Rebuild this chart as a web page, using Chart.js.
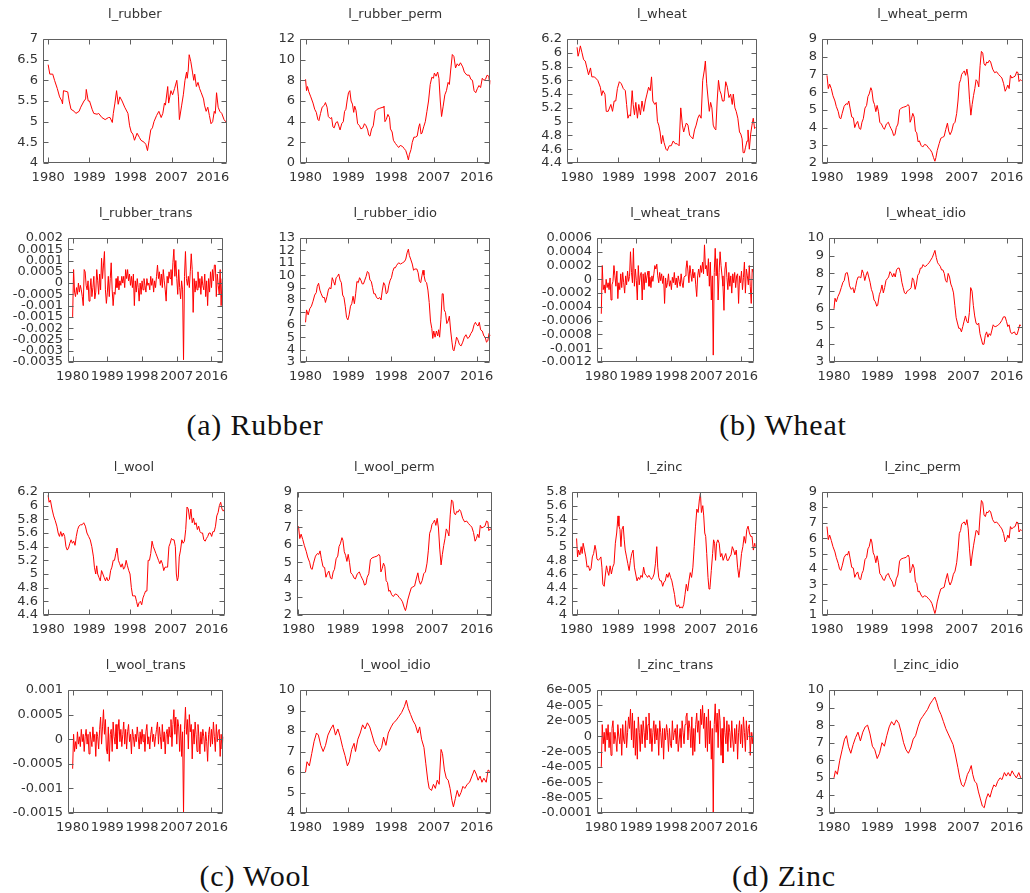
<!DOCTYPE html>
<html>
<head>
<meta charset="utf-8">
<script src="https://cdn.jsdelivr.net/npm/chart.js@4.4.0/dist/chart.umd.min.js"></script>
<style>
  html, body { margin: 0; padding: 0; background: #fff; overflow: hidden; }
  #fig { position: relative; width: 1030px; height: 893px; }
  #fig canvas { position: absolute; }
  .cap { position: absolute; width: 400px; text-align: center; font-family: 'Liberation Serif', serif;
         font-size: 30px; line-height: 30px; letter-spacing: 0.8px; color: #111; }
</style>
</head>
<body>
<div id="fig">
  <div class="cap" style="left:55px; top:410px">(a) Rubber</div>
  <div class="cap" style="left:583px; top:410px">(b) Wheat</div>
  <div class="cap" style="left:55px; top:861px">(c) Wool</div>
  <div class="cap" style="left:584px; top:861px">(d) Zinc</div>
</div>
<script>
// ---- data: [year, value] readings, monthly series thinned by hand ----
const yearTicks = [1980, 1989, 1998, 2007, 2016];

const rubber = [
  [1980.00,6.38],[1980.36,6.15],[1981.00,6.15],[1981.40,6.00],[1982.00,5.80],[1982.50,5.60],[1983.00,5.50],[1983.14,5.43],
  [1983.35,5.75],[1984.28,5.72],[1984.60,5.50],[1985.00,5.30],[1985.70,5.25],[1986.06,5.20],[1986.77,5.25],[1987.13,5.35],
  [1987.84,5.50],[1988.20,5.55],[1988.34,5.78],[1988.77,5.50],[1989.05,5.50],[1989.62,5.30],[1989.98,5.20],[1990.70,5.18],
  [1991.05,5.20],[1991.76,5.10],[1992.47,5.05],[1993.19,5.10],[1993.54,5.10],[1994.04,4.98],[1994.26,5.20],[1994.61,5.45],
  [1994.97,5.75],[1995.33,5.42],[1995.68,5.60],[1996.18,5.50],[1996.75,5.35],[1997.46,5.20],[1997.82,4.90],[1998.18,4.75],
  [1998.53,4.70],[1998.89,4.55],[1999.46,4.72],[1999.96,4.62],[2000.31,4.55],[2001.03,4.50],[2001.38,4.45],[2001.74,4.30],
  [2002.10,4.55],[2002.45,4.80],[2002.81,4.85],[2003.16,5.00],[2003.73,5.15],[2004.23,5.25],[2004.73,5.10],[2005.09,5.20],
  [2005.45,5.45],[2005.66,5.40],[2006.16,5.85],[2006.37,5.45],[2006.87,5.75],[2007.23,5.65],[2007.66,5.80],[2008.15,6.00],
  [2008.51,5.60],[2008.72,5.05],[2009.22,5.40],[2009.58,5.65],[2009.94,6.00],[2010.29,6.20],[2010.43,6.05],[2010.65,6.25],
  [2010.86,6.62],[2011.22,6.45],[2011.58,6.20],[2011.86,6.00],[2012.07,6.15],[2012.43,5.85],[2012.79,5.95],[2013.14,5.80],
  [2013.50,5.70],[2014.00,5.55],[2014.21,5.40],[2014.57,5.25],[2014.93,5.35],[2015.28,5.15],[2015.64,4.95],[2016.00,5.00],
  [2016.35,5.25],[2016.57,5.20],[2016.85,5.70],[2017.20,5.35],[2017.56,5.25],[2017.99,5.20],[2018.49,5.05],[2018.85,5.00],
  [2019.00,4.98]
];

const rubberPerm = [
  [1980.00,8.1],[1980.21,7.0],[1980.41,7.4],[1980.68,6.9],[1981.10,6.4],[1981.57,5.8],[1981.92,5.2],[1982.26,4.9],
  [1982.60,4.2],[1982.81,4.1],[1983.15,4.8],[1983.49,5.4],[1983.97,5.6],[1984.18,5.85],[1984.52,5.4],[1984.79,4.5],
  [1985.20,4.3],[1985.48,4.4],[1985.75,3.5],[1986.02,3.4],[1986.37,3.9],[1986.71,4.0],[1987.05,3.5],[1987.26,3.2],
  [1987.60,3.8],[1987.94,4.0],[1988.21,5.0],[1988.49,5.2],[1988.76,6.1],[1989.03,6.8],[1989.31,7.0],[1989.58,6.0],
  [1989.86,5.7],[1990.13,4.9],[1990.34,5.5],[1990.61,5.1],[1990.95,3.8],[1991.36,3.6],[1991.64,3.3],[1992.05,3.4],
  [1992.39,3.8],[1992.73,3.6],[1993.07,3.2],[1993.28,2.7],[1993.55,2.6],[1993.89,3.3],[1994.24,3.6],[1994.65,5.0],
  [1995.06,5.2],[1995.61,5.3],[1996.29,5.4],[1996.50,5.5],[1996.70,4.0],[1996.97,4.2],[1997.32,4.7],[1997.66,4.4],
  [1997.86,3.3],[1998.21,3.0],[1998.48,2.2],[1998.89,1.9],[1999.23,1.7],[1999.58,1.5],[1999.92,1.7],[2000.40,1.6],
  [2000.74,1.4],[2001.08,1.2],[2001.42,0.7],[2001.63,0.3],[2001.83,0.8],[2002.18,1.3],[2002.45,2.0],[2002.79,2.5],
  [2003.13,2.5],[2003.48,2.6],[2003.82,3.5],[2004.02,3.8],[2004.30,2.8],[2004.50,2.9],[2004.85,3.5],[2005.19,4.0],
  [2005.53,5.0],[2005.87,6.0],[2006.22,7.6],[2006.56,8.3],[2006.90,8.2],[2007.10,8.7],[2007.45,8.4],[2007.79,8.8],
  [2008.06,8.2],[2008.34,6.0],[2008.61,4.5],[2008.95,5.5],[2009.30,6.6],[2009.64,7.0],[2009.98,7.8],[2010.25,7.6],
  [2010.53,9.0],[2010.87,10.5],[2011.21,10.3],[2011.55,9.2],[2011.90,9.6],[2012.24,9.4],[2012.58,9.7],[2013.06,9.3],
  [2013.40,8.8],[2013.95,8.5],[2014.43,8.5],[2014.77,8.1],[2015.11,8.0],[2015.45,7.0],[2015.80,6.8],[2016.14,7.2],
  [2016.48,7.5],[2016.82,7.3],[2017.17,8.2],[2017.51,8.0],[2017.85,8.1],[2018.19,8.5],[2018.54,8.4],[2018.74,7.6],
  [2018.88,8.0]
];

const wheat = [
  [1980.00,6.08],[1980.22,5.95],[1980.43,6.00],[1980.72,6.10],[1981.08,6.00],[1981.43,5.90],[1981.79,5.88],[1982.15,5.78],
  [1982.51,5.68],[1982.94,5.78],[1983.23,5.65],[1983.80,5.65],[1984.52,5.60],[1985.09,5.50],[1985.38,5.38],[1985.67,5.45],
  [1986.10,5.40],[1986.38,5.15],[1986.81,5.15],[1987.39,5.25],[1987.75,5.15],[1988.11,5.30],[1988.46,5.30],[1988.82,5.48],
  [1989.25,5.58],[1989.68,5.55],[1990.11,5.48],[1990.55,5.45],[1990.83,5.25],[1991.12,5.05],[1991.41,5.10],[1991.69,5.08],
  [1992.05,5.45],[1992.27,5.25],[1992.55,5.10],[1992.84,5.28],[1993.20,5.05],[1993.49,5.25],[1993.85,5.10],[1994.20,5.30],
  [1994.56,5.15],[1994.92,5.30],[1995.28,5.40],[1995.64,5.50],[1996.00,5.45],[1996.28,5.65],[1996.57,5.30],[1997.00,5.25],
  [1997.29,5.28],[1997.58,5.00],[1997.86,4.95],[1998.15,4.85],[1998.44,4.68],[1998.72,4.80],[1999.01,4.70],[1999.44,4.60],
  [1999.73,4.58],[2000.16,4.65],[2000.59,4.65],[2001.02,4.72],[2001.45,4.68],[2001.88,4.68],[2002.31,4.65],[2002.67,5.20],
  [2003.03,4.95],[2003.31,4.85],[2003.60,4.92],[2003.89,4.98],[2004.25,4.95],[2004.61,4.80],[2004.96,4.78],[2005.32,4.75],
  [2005.68,4.88],[2006.04,4.95],[2006.40,5.05],[2006.76,5.10],[2007.12,5.05],[2007.47,5.60],[2007.83,5.75],[2008.05,5.88],
  [2008.34,5.55],[2008.69,5.30],[2008.91,5.15],[2009.20,5.28],[2009.48,5.20],[2009.77,4.95],[2010.06,4.90],[2010.34,4.88],
  [2010.63,5.30],[2010.92,5.60],[2011.21,5.45],[2011.49,5.40],[2011.78,5.30],[2012.14,5.30],[2012.50,5.58],[2012.86,5.50],
  [2013.21,5.35],[2013.57,5.40],[2013.93,5.25],[2014.15,5.40],[2014.51,5.20],[2014.79,5.15],[2015.15,5.05],[2015.51,4.85],
  [2015.80,4.82],[2016.08,4.75],[2016.30,4.55],[2016.59,4.55],[2016.80,4.62],[2017.16,4.72],[2017.37,4.88],[2017.66,4.60],
  [2017.95,4.82],[2018.24,4.95],[2018.52,5.05],[2018.81,4.90],[2019.00,4.92]
];

// the three "perm" components below share one set of reading dates
const permYears = [
  1980.00,1980.26,1980.53,1980.86,1981.19,1981.59,1981.85,1982.25,1982.51,1982.77,1983.04,1983.43,1983.83,1984.10,1984.36,1984.62,
  1984.95,1985.28,1985.55,1985.81,1986.14,1986.47,1986.74,1987.00,1987.27,1987.60,1987.93,1988.19,1988.45,1988.78,1988.98,1989.25,
  1989.51,1989.78,1990.04,1990.30,1990.57,1990.90,1991.23,1991.49,1991.89,1992.29,1992.55,1992.81,1993.08,1993.34,1993.61,1993.87,
  1994.20,1994.53,1994.86,1995.32,1995.85,1996.25,1996.45,1996.64,1996.91,1997.17,1997.44,1997.70,1997.97,1998.23,1998.49,1998.82,
  1999.15,1999.55,1999.95,2000.34,2000.67,2001.00,2001.33,2001.60,2001.80,2002.06,2002.46,2002.79,2003.12,2003.45,2003.78,2004.11,
  2004.37,2004.64,2004.97,2005.30,2005.63,2005.96,2006.22,2006.49,2006.75,2006.95,2007.21,2007.48,2007.74,2008.01,2008.27,2008.53,
  2008.80,2009.06,2009.33,2009.59,2009.85,2010.12,2010.38,2010.65,2010.91,2011.18,2011.44,2011.70,2011.97,2012.23,2012.50,2012.76,
  2013.16,2013.55,2013.95,2014.35,2014.68,2015.01,2015.34,2015.67,2015.93,2016.20,2016.46,2016.72,2016.99,2017.32,2017.65,2017.98,
  2018.24,2018.44,2018.71,2018.97
];
const wheatPerm = [
  6.95,6.2,6.45,6.2,5.8,5.5,5.2,4.9,4.55,4.5,4.8,5.2,5.35,5.3,5.5,5.1,
  4.6,4.55,4.0,4.2,4.35,3.95,3.9,4.3,4.5,5.1,5.25,5.75,5.9,6.25,6.1,5.5,
  5.3,4.9,5.25,4.9,4.3,4.2,4.0,3.9,4.2,4.3,4.1,3.95,3.8,3.55,3.6,4.0,
  4.2,5.0,5.1,5.15,5.2,5.3,5.2,4.3,4.5,4.8,4.6,3.8,3.7,3.2,3.25,3.0,
  2.9,3.05,3.0,2.85,2.75,2.6,2.3,2.1,2.3,2.7,3.1,3.4,3.45,3.5,3.9,4.25,
  3.8,3.6,3.8,4.2,4.3,4.8,5.5,6.5,6.7,7.0,7.1,7.2,6.95,7.3,6.8,5.6,
  4.7,5.3,5.8,6.2,6.7,6.6,6.3,7.5,8.3,8.2,7.6,7.5,7.7,7.65,7.8,7.7,
  7.3,7.1,7.15,7.0,6.9,6.8,6.5,6.05,6.2,6.4,6.2,6.95,6.8,6.85,6.9,7.15,
  7.1,6.6,6.7,6.65
];
const woolPerm = [
  7.05,6.35,6.6,6.3,5.95,5.6,5.3,5.0,4.65,4.6,4.95,5.35,5.5,5.45,5.65,5.2,
  4.75,4.7,4.15,4.35,4.5,4.1,4.05,4.45,4.6,5.2,5.35,5.9,6.05,6.4,6.25,5.6,
  5.4,5.05,5.45,5.0,4.4,4.3,4.1,4.05,4.35,4.45,4.25,4.1,3.95,3.7,3.75,4.15,
  4.35,5.15,5.25,5.3,5.35,5.45,5.35,4.45,4.65,4.95,4.75,3.95,3.85,3.35,3.4,3.15,
  3.05,3.2,3.15,3.0,2.9,2.75,2.45,2.25,2.45,2.85,3.25,3.55,3.6,3.65,4.05,4.4,
  3.95,3.75,3.95,4.35,4.45,4.95,5.65,6.65,6.85,7.15,7.25,7.4,7.1,7.5,6.95,5.75,
  4.85,5.45,5.95,6.35,6.9,6.75,6.5,7.7,8.55,8.45,7.8,7.7,7.9,7.85,8.0,7.9,
  7.5,7.3,7.35,7.2,7.1,7.0,6.7,6.2,6.35,6.6,6.4,7.1,6.95,7.0,7.05,7.35,
  7.3,6.8,6.9,6.85
];
const zincPerm = [
  6.75,5.9,6.2,5.85,5.45,5.1,4.75,4.35,4.0,3.9,4.2,4.75,4.95,4.9,5.15,4.7,
  4.1,4.05,3.45,3.65,3.8,3.35,3.3,3.7,3.9,4.6,4.75,5.3,5.45,5.95,5.75,5.05,
  4.85,4.4,4.85,4.4,3.7,3.55,3.3,3.25,3.6,3.7,3.45,3.3,3.15,2.85,2.9,3.35,
  3.6,4.5,4.65,4.7,4.75,4.9,4.75,3.75,3.95,4.3,4.05,3.15,3.05,2.5,2.55,2.3,
  2.15,2.25,2.2,2.05,1.95,1.75,1.4,1.1,1.35,1.85,2.35,2.7,2.75,2.8,3.3,3.7,
  3.2,2.95,3.2,3.65,3.85,4.4,5.2,6.3,6.5,6.9,7.0,7.05,6.85,7.2,6.6,5.3,
  4.2,4.9,5.5,6.0,6.5,6.45,6.2,7.5,8.45,8.3,7.5,7.4,7.7,7.65,7.8,7.7,
  7.2,7.0,7.05,6.9,6.75,6.6,6.3,5.75,5.9,6.2,6.0,6.75,6.6,6.7,6.75,7.05,
  7.0,6.4,6.55,6.5
];

const rubberIdio = [
  [1980.00,6.2],[1980.21,7.2],[1980.55,6.8],[1980.89,7.3],[1981.23,7.5],[1981.57,7.9],[1981.92,8.4],[1982.26,8.6],
  [1982.46,9.1],[1982.74,9.35],[1983.01,8.8],[1983.29,8.5],[1983.63,8.2],[1983.97,8.2],[1984.18,7.8],[1984.52,8.3],
  [1984.79,8.8],[1985.06,9.0],[1985.34,8.9],[1985.61,9.8],[1985.89,9.5],[1986.16,9.2],[1986.43,9.8],[1986.71,9.9],
  [1986.98,10.1],[1987.26,9.6],[1987.53,9.4],[1987.80,8.4],[1988.08,8.2],[1988.35,7.5],[1988.62,6.6],[1988.90,6.4],
  [1989.17,6.8],[1989.45,7.5],[1989.72,7.7],[1989.99,8.3],[1990.27,7.7],[1990.54,8.5],[1990.81,9.5],[1991.09,9.4],
  [1991.36,9.8],[1991.64,9.6],[1991.91,9.3],[1992.18,9.3],[1992.46,9.6],[1992.73,9.9],[1993.00,10.3],[1993.28,10.2],
  [1993.55,9.6],[1993.83,9.5],[1994.10,9.0],[1994.37,8.5],[1994.65,8.5],[1994.92,8.2],[1995.26,8.1],[1995.61,8.2],
  [1995.88,8.0],[1996.15,8.8],[1996.43,9.4],[1996.70,9.2],[1996.97,8.5],[1997.25,8.6],[1997.52,9.2],[1997.80,9.6],
  [1998.07,9.8],[1998.34,10.3],[1998.62,10.6],[1998.89,10.6],[1999.16,10.8],[1999.58,11.0],[1999.99,10.9],[2000.40,11.0],
  [2000.81,11.1],[2001.08,11.3],[2001.36,11.8],[2001.63,12.1],[2001.83,11.6],[2002.11,11.3],[2002.45,10.9],[2002.72,10.4],
  [2003.00,10.5],[2003.41,10.5],[2003.68,10.2],[2003.96,9.5],[2004.23,9.4],[2004.50,10.0],[2004.71,10.4],[2004.91,10.0],
  [2005.19,9.5],[2005.46,9.4],[2005.74,8.8],[2006.01,7.8],[2006.28,6.3],[2006.56,5.7],[2006.76,4.9],[2006.97,5.5],
  [2007.24,5.0],[2007.52,5.5],[2007.79,5.1],[2007.99,5.6],[2008.20,5.0],[2008.47,6.4],[2008.75,8.5],[2008.95,8.5],
  [2009.16,7.2],[2009.43,7.0],[2009.71,6.1],[2009.98,6.3],[2010.25,6.7],[2010.53,5.5],[2010.80,4.6],[2011.01,4.0],
  [2011.21,3.9],[2011.49,4.4],[2011.76,5.0],[2012.03,4.8],[2012.38,4.4],[2012.72,4.3],[2013.06,4.6],[2013.40,5.0],
  [2013.74,5.2],[2014.09,4.9],[2014.43,5.0],[2014.77,5.3],[2015.11,5.5],[2015.45,6.0],[2015.73,6.2],[2016.00,6.0],
  [2016.28,5.9],[2016.55,6.2],[2016.82,5.6],[2017.17,5.5],[2017.51,5.1],[2017.78,5.0],[2018.06,4.6],[2018.33,4.7],
  [2018.60,5.3],[2018.88,5.1]
];

const wheatIdio = [
  [1980.00,6.0],[1980.21,6.6],[1980.48,6.4],[1980.83,6.7],[1981.17,6.9],[1981.52,7.2],[1981.86,7.5],[1982.14,7.6],
  [1982.41,8.0],[1982.76,8.05],[1982.97,7.8],[1983.24,7.3],[1983.59,7.1],[1983.93,7.2],[1984.21,6.9],[1984.48,7.2],
  [1984.76,7.6],[1985.03,7.8],[1985.31,7.8],[1985.59,7.75],[1985.86,8.2],[1986.14,8.0],[1986.41,7.6],[1986.69,7.9],
  [1986.97,8.1],[1987.24,7.8],[1987.52,7.5],[1987.79,7.1],[1988.07,6.9],[1988.34,6.5],[1988.62,6.4],[1988.90,6.15],
  [1989.10,6.2],[1989.45,6.8],[1989.72,7.0],[1990.00,7.35],[1990.28,6.9],[1990.55,7.2],[1990.83,7.6],[1991.10,7.7],
  [1991.38,7.8],[1991.66,8.1],[1991.93,8.0],[1992.21,7.8],[1992.48,8.0],[1992.76,7.8],[1993.03,8.2],[1993.31,8.3],
  [1993.59,8.3],[1993.86,8.0],[1994.14,7.5],[1994.41,7.2],[1994.69,6.9],[1994.97,6.85],[1995.24,7.0],[1995.52,7.05],
  [1995.79,7.1],[1996.07,7.2],[1996.34,7.75],[1996.62,7.6],[1996.90,7.1],[1997.17,7.4],[1997.45,7.9],[1997.72,8.0],
  [1998.00,8.3],[1998.28,8.3],[1998.55,8.5],[1998.83,8.4],[1999.10,8.4],[1999.45,8.5],[1999.79,8.6],[2000.14,8.75],
  [2000.48,8.9],[2000.76,9.1],[2001.03,9.3],[2001.31,8.9],[2001.59,8.6],[2001.86,8.5],[2002.14,8.4],[2002.41,8.2],
  [2002.69,8.2],[2002.97,8.0],[2003.24,7.6],[2003.52,7.5],[2003.79,8.0],[2004.07,7.8],[2004.34,7.4],[2004.62,7.2],
  [2004.90,6.9],[2005.17,6.2],[2005.45,5.5],[2005.72,5.2],[2006.00,4.9],[2006.28,4.9],[2006.55,4.7],[2006.83,5.0],
  [2007.10,5.3],[2007.38,5.6],[2007.66,5.3],[2007.93,5.2],[2008.21,5.8],[2008.48,7.2],[2008.76,7.0],[2009.03,6.2],
  [2009.31,5.6],[2009.59,5.2],[2009.86,5.1],[2010.14,5.2],[2010.41,4.6],[2010.69,4.3],[2010.97,4.0],[2011.24,4.0],
  [2011.52,4.5],[2011.79,4.7],[2012.07,4.4],[2012.34,4.6],[2012.62,4.5],[2012.90,4.8],[2013.17,5.1],[2013.45,5.0],
  [2013.72,5.0],[2014.00,5.05],[2014.28,5.1],[2014.62,5.2],[2014.97,5.35],[2015.31,5.55],[2015.66,5.55],[2015.93,5.3],
  [2016.21,5.0],[2016.48,5.1],[2016.76,4.7],[2017.03,4.6],[2017.31,4.65],[2017.59,4.7],[2017.86,4.55],[2018.14,4.55],
  [2018.41,4.8],[2018.69,5.1],[2018.97,5.05]
];

const wool = [
  [1980.00,6.15],[1980.21,6.05],[1980.50,6.08],[1980.86,5.95],[1981.21,5.85],[1981.57,5.78],[1981.92,5.70],[1982.21,5.60],
  [1982.49,5.55],[1982.78,5.62],[1983.06,5.55],[1983.35,5.60],[1983.64,5.55],[1983.92,5.40],[1984.21,5.35],[1984.49,5.38],
  [1984.78,5.45],[1985.06,5.50],[1985.35,5.45],[1985.63,5.48],[1985.92,5.42],[1986.20,5.55],[1986.49,5.65],[1986.77,5.70],
  [1987.13,5.72],[1987.48,5.72],[1987.84,5.75],[1988.20,5.70],[1988.55,5.60],[1988.91,5.55],[1989.27,5.50],[1989.62,5.40],
  [1989.98,5.25],[1990.19,5.10],[1990.48,5.00],[1990.69,5.12],[1990.91,5.00],[1991.19,4.95],[1991.48,4.90],[1991.76,5.05],
  [1992.05,5.00],[1992.33,4.95],[1992.62,4.90],[1992.90,4.95],[1993.19,4.90],[1993.47,4.92],[1993.76,5.05],[1994.04,5.10],
  [1994.33,5.20],[1994.61,5.20],[1994.90,5.30],[1995.18,5.38],[1995.47,5.20],[1995.75,5.15],[1996.04,5.10],[1996.32,5.15],
  [1996.61,5.07],[1996.89,5.10],[1997.18,5.20],[1997.46,5.12],[1997.75,5.05],[1998.03,5.00],[1998.32,4.80],[1998.60,4.68],
  [1998.89,4.68],[1999.17,4.68],[1999.46,4.60],[1999.74,4.52],[2000.03,4.58],[2000.31,4.60],[2000.60,4.55],[2000.88,4.65],
  [2001.17,4.70],[2001.45,4.75],[2001.74,4.75],[2002.02,5.20],[2002.31,5.20],[2002.59,5.30],[2002.88,5.48],[2003.16,5.40],
  [2003.45,5.35],[2003.73,5.30],[2004.02,5.25],[2004.30,5.20],[2004.59,5.15],[2004.87,5.20],[2005.16,5.15],[2005.45,5.05],
  [2005.73,5.10],[2006.02,5.10],[2006.30,5.10],[2006.59,5.40],[2006.87,5.45],[2007.16,5.52],[2007.44,5.50],[2007.73,5.50],
  [2008.01,5.40],[2008.23,5.00],[2008.44,4.90],[2008.65,4.95],[2008.87,5.25],[2009.15,5.35],[2009.44,5.50],[2009.72,5.45],
  [2010.01,5.48],[2010.29,5.65],[2010.58,5.98],[2010.86,5.95],[2011.15,5.80],[2011.43,5.95],[2011.72,5.75],[2012.00,5.82],
  [2012.29,5.72],[2012.57,5.75],[2012.86,5.65],[2013.14,5.70],[2013.43,5.62],[2013.71,5.60],[2014.00,5.60],[2014.28,5.50],
  [2014.57,5.48],[2014.85,5.52],[2015.14,5.55],[2015.42,5.60],[2015.71,5.60],[2016.00,5.55],[2016.28,5.62],[2016.56,5.62],
  [2016.85,5.70],[2017.13,5.85],[2017.42,5.90],[2017.70,6.00],[2017.99,6.05],[2018.28,5.95],[2018.56,5.92],[2018.85,5.95]
];

const zinc = [
  [1980.00,5.12],[1980.21,4.85],[1980.43,4.95],[1980.72,4.88],[1981.00,5.00],[1981.22,4.90],[1981.43,5.05],[1981.72,4.95],
  [1982.01,4.85],[1982.29,4.70],[1982.58,4.72],[1982.87,4.65],[1983.15,4.68],[1983.44,4.85],[1983.72,4.90],[1984.01,5.02],
  [1984.23,4.95],[1984.44,4.82],[1984.73,4.80],[1985.01,4.82],[1985.30,4.85],[1985.52,4.70],[1985.73,4.45],[1986.02,4.42],
  [1986.30,4.60],[1986.52,4.72],[1986.73,4.65],[1987.02,4.58],[1987.31,4.72],[1987.59,4.60],[1987.88,4.70],[1988.17,4.75],
  [1988.45,5.05],[1988.74,5.20],[1989.03,5.45],[1989.24,5.30],[1989.46,5.25],[1989.67,5.00],[1989.89,5.25],[1990.17,5.30],
  [1990.39,5.10],[1990.60,4.95],[1990.89,4.85],[1991.17,4.75],[1991.46,4.65],[1991.75,4.80],[1992.03,4.90],[1992.32,4.95],
  [1992.61,4.70],[1992.89,4.60],[1993.18,4.50],[1993.47,4.55],[1993.75,4.52],[1994.04,4.58],[1994.33,4.55],[1994.61,4.70],
  [1994.90,4.60],[1995.19,4.58],[1995.47,4.55],[1995.76,4.58],[1996.05,4.55],[1996.33,4.52],[1996.62,4.55],[1996.90,4.60],
  [1997.19,4.75],[1997.48,5.00],[1997.69,4.70],[1997.91,4.55],[1998.19,4.50],[1998.48,4.50],[1998.77,4.42],[1999.05,4.48],
  [1999.34,4.50],[1999.63,4.60],[1999.91,4.55],[2000.20,4.62],[2000.49,4.55],[2000.77,4.50],[2001.06,4.40],[2001.35,4.30],
  [2001.63,4.15],[2001.92,4.12],[2002.21,4.15],[2002.49,4.10],[2002.78,4.12],[2003.07,4.10],[2003.35,4.15],[2003.64,4.30],
  [2003.92,4.45],[2004.21,4.35],[2004.50,4.50],[2004.78,4.62],[2005.07,4.55],[2005.36,4.70],[2005.64,5.00],[2005.93,5.30],
  [2006.22,5.55],[2006.50,5.50],[2006.79,5.70],[2007.00,5.78],[2007.22,5.50],[2007.51,5.60],[2007.72,5.45],[2007.94,5.20],
  [2008.15,5.15],[2008.37,4.90],[2008.65,4.55],[2008.87,4.38],[2009.08,4.40],[2009.37,4.65],[2009.66,4.90],[2009.87,5.10],
  [2010.09,5.05],[2010.30,4.80],[2010.52,5.05],[2010.80,5.10],[2011.09,5.05],[2011.38,4.85],[2011.66,4.90],[2011.95,4.80],
  [2012.23,4.85],[2012.52,4.90],[2012.81,4.80],[2013.09,4.80],[2013.38,4.85],[2013.67,4.88],[2013.95,5.00],[2014.24,4.95],
  [2014.53,4.88],[2014.81,4.95],[2015.10,4.70],[2015.39,4.55],[2015.67,4.70],[2015.96,4.90],[2016.25,5.00],[2016.53,5.15],
  [2016.82,5.05],[2017.11,5.25],[2017.39,5.30],[2017.68,5.20],[2017.97,5.15],[2018.25,5.15],[2018.54,4.95],[2018.83,5.05],
  [2018.97,5.00]
];

const woolIdio = [
  [1980.0,6.0],[1980.3,6.5],[1980.8,6.3],[1981.3,6.9],[1981.8,7.5],[1982.3,7.9],[1982.7,7.8],[1983.2,7.3],
  [1983.7,7.0],[1984.2,7.3],[1984.7,7.8],[1985.3,8.1],[1985.8,8.3],[1986.3,7.8],[1986.8,8.1],[1987.3,7.7],
  [1987.8,7.2],[1988.3,6.8],[1988.8,6.3],[1989.2,6.5],[1989.7,7.1],[1990.2,7.4],[1990.5,7.0],[1991.0,7.6],
  [1991.5,7.9],[1992.0,8.3],[1992.5,8.1],[1993.0,8.4],[1993.5,8.2],[1994.0,7.8],[1994.5,7.4],[1995.0,7.2],
  [1995.5,7.0],[1996.0,7.2],[1996.4,7.7],[1996.9,7.3],[1997.4,7.9],[1998.0,8.2],[1998.5,8.4],[1999.0,8.5],
  [1999.6,8.7],[2000.2,8.9],[2000.8,9.2],[2001.2,9.5],[2001.6,9.1],[2002.1,8.8],[2002.6,8.5],[2003.1,8.3],
  [2003.6,7.9],[2004.0,8.2],[2004.4,7.6],[2004.9,7.2],[2005.3,6.4],[2005.7,5.6],[2006.0,5.2],[2006.5,5.1],
  [2006.9,5.4],[2007.3,5.2],[2007.7,5.6],[2008.1,5.4],[2008.5,7.1],[2008.8,6.9],[2009.2,6.1],[2009.6,5.7],
  [2010.0,5.6],[2010.4,5.2],[2010.8,4.6],[2011.1,4.3],[2011.5,4.7],[2011.9,5.1],[2012.3,4.8],[2012.7,5.0],
  [2013.1,5.3],[2013.5,5.2],[2014.0,5.4],[2014.5,5.5],[2015.0,5.8],[2015.5,6.1],[2015.9,5.9],[2016.3,5.6],
  [2016.7,5.8],[2017.1,5.5],[2017.5,5.7],[2018.0,5.5],[2018.4,6.1],[2018.9,6.0]
];

const zincIdio = [
  [1980.0,5.0],[1980.3,5.4],[1980.7,5.2],[1981.2,6.0],[1981.7,6.6],[1982.2,7.2],[1982.6,7.4],[1983.0,6.8],
  [1983.5,6.4],[1984.0,6.9],[1984.5,7.3],[1985.0,7.6],[1985.5,7.1],[1986.0,7.6],[1986.5,7.9],[1987.0,8.0],
  [1987.5,7.5],[1988.0,6.8],[1988.5,6.6],[1989.0,6.1],[1989.5,6.4],[1990.0,7.0],[1990.5,6.8],[1991.0,7.4],
  [1991.5,7.9],[1992.0,8.2],[1992.5,8.0],[1993.0,8.3],[1993.5,8.1],[1994.0,7.6],[1994.5,7.0],[1995.0,6.6],
  [1995.5,6.4],[1996.0,6.7],[1996.5,7.2],[1997.0,7.4],[1997.5,7.9],[1998.0,8.3],[1998.5,8.5],[1999.0,8.7],
  [1999.5,8.9],[2000.0,9.2],[2000.5,9.4],[2001.0,9.6],[2001.4,9.3],[2001.8,8.9],[2002.3,8.6],[2002.8,8.2],
  [2003.3,7.8],[2003.8,7.5],[2004.3,7.2],[2004.8,6.9],[2005.3,6.3],[2005.8,5.6],[2006.2,5.0],[2006.6,4.6],
  [2007.0,4.5],[2007.4,4.8],[2007.8,5.2],[2008.2,5.4],[2008.6,5.7],[2008.9,5.2],[2009.3,4.8],[2009.7,4.7],
  [2010.1,4.2],[2010.5,3.8],[2010.9,3.4],[2011.3,3.3],[2011.7,3.8],[2012.1,4.1],[2012.5,3.9],[2012.9,4.3],
  [2013.3,4.6],[2013.7,4.5],[2014.1,4.8],[2014.6,5.0],[2015.0,4.9],[2015.5,5.3],[2015.9,5.1],[2016.3,5.3],
  [2016.7,5.1],[2017.1,5.4],[2017.5,5.2],[2018.0,5.0],[2018.5,5.3],[2018.9,5.0]
];

// transitory components, one reading per quarter from 1980Q1
const rubberTrans = [
  -15e-4,6e-4,-4e-4,-6e-4, -2e-4,-5e-4,0,-4e-4, -1e-4,-3e-4,-6e-4,-10e-4, 6e-4,5e-4,-1e-4,-3e-4,
  1e-4,-8e-4,-3e-4,2e-4, -6e-4,-2e-4,3e-4,-7e-4, -4e-4,6e-4,1e-4,-5e-4, 4e-4,-3e-4,11e-4,2e-4,
  8e-4,14e-4,-3e-4,-9e-4, -4e-4,3e-4,-6e-4,2e-4, 9e-4,-3e-4,-10e-4,-4e-4, -5e-4,2e-4,-2e-4,3e-4,
  -3e-4,1e-4,-1e-4,3e-4, 0,3e-4,-2e-4,6e-4, 2e-4,6e-4,1e-4,4e-4, -1e-4,3e-4,-2e-4,4e-4,
  -10e-4,1e-4,-4e-4,2e-4, -2e-4,-8e-4,0,-5e-4, 1e-4,-3e-4,2e-4,-1e-4, -4e-4,2e-4,-1e-4,0,
  -3e-4,3e-4,-1e-4,2e-4, -4e-4,1e-4,-2e-4,3e-4, 8e-4,2e-4,5e-4,-1e-4, 4e-4,-2e-4,6e-4,1e-4,
  -3e-4,-8e-4,3e-4,0, 5e-4,2e-4,6e-4,-1e-4, 9e-4,15e-4,3e-4,10e-4, 2e-4,-5e-4,6e-4,-2e-4,
  -7e-4,1e-4,-3e-4,-34e-4, 3e-4,14e-4,2e-4,-1e-4, 3e-4,-2e-4,5e-4,13e-4, 6e-4,-13e-4,2e-4,-4e-4,
  1e-4,-3e-4,5e-4,-2e-4, 2e-4,-5e-4,3e-4,-1e-4, -3e-4,4e-4,-6e-4,1e-4, -10e-4,2e-4,-4e-4,5e-4,
  -2e-4,6e-4,1e-4,8e-4, 8e-4,-6e-4,4e-4,-1e-4, -5e-4,6e-4,-10e-4,2e-4, 2e-4
];

const wheatTrans = [
  -50e-5,20e-5,-15e-5,-8e-5, -20e-5,0,-12e-5,-5e-5, -15e-5,2e-5,-30e-5,-8e-5, -3e-5,20e-5,5e-5,-10e-5,
  12e-5,-28e-5,-5e-5,-15e-5, 8e-5,-12e-5,10e-5,-5e-5, -20e-5,5e-5,-8e-5,12e-5, -3e-5,4e-5,40e-5,10e-5,
  -5e-5,45e-5,-10e-5,15e-5, -2e-5,-30e-5,20e-5,-8e-5, 5e-5,10e-5,-30e-5,8e-5, -15e-5,10e-5,-5e-5,5e-5,
  12e-5,-10e-5,3e-5,-12e-5, 5e-5,-3e-5,8e-5,20e-5, 15e-5,22e-5,5e-5,-5e-5, 10e-5,-2e-5,8e-5,-6e-5,
  5e-5,-35e-5,2e-5,-12e-5, -5e-5,8e-5,-10e-5,-2e-5, -15e-5,3e-5,-5e-5,10e-5, -8e-5,2e-5,-12e-5,5e-5,
  -3e-5,-10e-5,8e-5,-5e-5, -12e-5,3e-5,5e-5,15e-5, 27e-5,12e-5,-5e-5,20e-5, 8e-5,-3e-5,15e-5,2e-5,
  10e-5,-8e-5,-25e-5,5e-5, 15e-5,3e-5,20e-5,10e-5, 25e-5,8e-5,50e-5,15e-5, 20e-5,5e-5,30e-5,-10e-5,
  25e-5,-30e-5,5e-5,-110e-5, 10e-5,45e-5,5e-5,30e-5, -30e-5,10e-5,40e-5,20e-5, 5e-5,-10e-5,-45e-5,15e-5,
  25e-5,3e-5,-15e-5,10e-5, -10e-5,5e-5,-20e-5,8e-5, -5e-5,10e-5,-12e-5,5e-5, 8e-5,-35e-5,5e-5,-5e-5,
  12e-5,-15e-5,3e-5,25e-5, -20e-5,15e-5,5e-5,-8e-5, 20e-5,-10e-5,-35e-5,15e-5, 10e-5
];

const woolTrans = [
  -60e-5,10e-5,-25e-5,-5e-5, -20e-5,15e-5,-10e-5,5e-5, -15e-5,20e-5,-5e-5,10e-5, -25e-5,5e-5,20e-5,-10e-5,
  10e-5,-30e-5,15e-5,0, -15e-5,25e-5,-5e-5,10e-5, -35e-5,15e-5,5e-5,-20e-5, 20e-5,45e-5,-10e-5,25e-5,
  60e-5,10e-5,40e-5,-20e-5, -30e-5,25e-5,-45e-5,10e-5, 20e-5,-25e-5,35e-5,5e-5, -10e-5,30e-5,-20e-5,15e-5,
  40e-5,-5e-5,20e-5,-15e-5, 10e-5,35e-5,-10e-5,20e-5, -20e-5,15e-5,30e-5,-5e-5, 10e-5,-30e-5,20e-5,5e-5,
  -15e-5,10e-5,-5e-5,25e-5, 5e-5,-20e-5,15e-5,-10e-5, 20e-5,-5e-5,10e-5,-25e-5, 15e-5,30e-5,-10e-5,5e-5,
  -20e-5,10e-5,25e-5,-5e-5, 10e-5,-15e-5,5e-5,20e-5, 35e-5,-10e-5,25e-5,5e-5, -20e-5,30e-5,-5e-5,15e-5,
  -30e-5,10e-5,20e-5,-10e-5, 25e-5,5e-5,40e-5,-15e-5, 30e-5,60e-5,10e-5,45e-5, -10e-5,40e-5,25e-5,-25e-5,
  30e-5,-35e-5,15e-5,-150e-5, 20e-5,65e-5,10e-5,40e-5, -20e-5,50e-5,15e-5,30e-5, -40e-5,20e-5,-10e-5,35e-5,
  10e-5,-25e-5,30e-5,5e-5, -30e-5,15e-5,-10e-5,20e-5, 5e-5,-25e-5,15e-5,-5e-5, -45e-5,10e-5,25e-5,-15e-5,
  20e-5,-10e-5,35e-5,5e-5, -25e-5,30e-5,-5e-5,15e-5, 20e-5,-35e-5,10e-5,-20e-5, 5e-5
];

const zincTrans = [
  -40e-6,15e-6,-10e-6,5e-6, -20e-6,10e-6,-5e-6,15e-6, -15e-6,5e-6,-25e-6,10e-6, 20e-6,-10e-6,5e-6,-5e-6,
  -20e-6,15e-6,0,-10e-6, 10e-6,-25e-6,15e-6,-5e-6, -10e-6,20e-6,-15e-6,5e-6, 25e-6,10e-6,35e-6,-5e-6,
  30e-6,-15e-6,20e-6,-25e-6, 10e-6,-30e-6,25e-6,5e-6, -20e-6,15e-6,-10e-6,20e-6, 5e-6,-15e-6,25e-6,-5e-6,
  15e-6,30e-6,-10e-6,10e-6, -20e-6,5e-6,20e-6,-10e-6, 15e-6,-5e-6,10e-6,-25e-6, 20e-6,5e-6,-15e-6,10e-6,
  -30e-6,10e-6,-5e-6,15e-6, 5e-6,-20e-6,10e-6,-10e-6, -15e-6,20e-6,-5e-6,5e-6, 10e-6,-10e-6,15e-6,-20e-6,
  -5e-6,10e-6,-15e-6,20e-6, 5e-6,-10e-6,15e-6,25e-6, 30e-6,-5e-6,20e-6,10e-6, -15e-6,25e-6,-25e-6,10e-6,
  -20e-6,15e-6,30e-6,5e-6, 20e-6,-10e-6,35e-6,15e-6, 40e-6,10e-6,30e-6,-15e-6, 25e-6,-20e-6,35e-6,-10e-6,
  20e-6,-30e-6,10e-6,-100e-6, 15e-6,42e-6,5e-6,30e-6, -15e-6,35e-6,20e-6,-25e-6, 10e-6,-35e-6,25e-6,5e-6,
  -10e-6,20e-6,-20e-6,15e-6, 5e-6,-15e-6,20e-6,-5e-6, -20e-6,10e-6,-10e-6,15e-6, -30e-6,5e-6,20e-6,-10e-6,
  15e-6,-15e-6,25e-6,5e-6, -20e-6,20e-6,-5e-6,10e-6, 15e-6,-25e-6,5e-6,-10e-6, 5e-6
];

// y tick labels as printed; tick values are parsed from them
const rubberTicks      = ['4','4.5','5','5.5','6','6.5','7'];
const rubberPermTicks  = ['0','2','4','6','8','10','12'];
const wheatTicks       = ['4.4','4.6','4.8','5','5.2','5.4','5.6','5.8','6','6.2'];
const wheatPermTicks   = ['2','3','4','5','6','7','8','9'];
const rubberTransTicks = ['-0.0035','-0.003','-0.0025','-0.002','-0.0015','-0.001','-0.0005','0','0.0005','0.001','0.0015','0.002'];
const rubberIdioTicks  = ['3','4','5','6','7','8','9','10','11','12','13'];
const wheatTransTicks  = ['-0.0012','-0.001','-0.0008','-0.0006','-0.0004','-0.0002','0','0.0002','0.0004','0.0006'];
const wheatIdioTicks   = ['3','4','5','6','7','8','9','10'];
const woolTicks        = ['4.4','4.6','4.8','5','5.2','5.4','5.6','5.8','6','6.2'];
const woolPermTicks    = ['2','3','4','5','6','7','8','9'];
const zincTicks        = ['4','4.2','4.4','4.6','4.8','5','5.2','5.4','5.6','5.8'];
const zincPermTicks    = ['1','2','3','4','5','6','7','8','9'];
const woolTransTicks   = ['-0.0015','-0.001','-0.0005','0','0.0005','0.001'];
const woolIdioTicks    = ['4','5','6','7','8','9','10'];
const zincTransTicks   = ['-0.0001','-8e-005','-6e-005','-4e-005','-2e-005','0','2e-005','4e-005','6e-005'];
const zincIdioTicks    = ['3','4','5','6','7','8','9','10'];

// ---- helpers ----
const fromPairs = pairs => pairs.map(([x, y]) => ({ x, y }));
const fromYears = (xs, ys) => ys.map((y, i) => ({ x: xs[i], y }));
const quarterly = ys => ys.map((y, i) => ({ x: 1980 + i / 4, y }));

const TITLE_H = 32;   // title line + gap above the frame
const AXIS_H = 28;    // room for the year labels
const RIGHT_PAD = 6;
const FONT = { family: "'DejaVu Sans', Verdana, sans-serif", size: 13 };
const TEXT = '#333';
const FRAME = '#606060';

// box = [left, top, right, bottom] of the plotting frame; xr = visible year range
const panels = [
  { title: 'l_rubber',       pts: fromPairs(rubber),                 yl: rubberTicks,      box: [43, 39, 231, 163],   xr: [1978.87, 2019.07] },
  { title: 'l_rubber_perm',  pts: fromPairs(rubberPerm),             yl: rubberPermTicks,  box: [300, 39, 495, 163],  xr: [1978.83, 2018.9] },
  { title: 'l_wheat',        pts: fromPairs(wheat),                  yl: wheatTicks,       box: [567, 39, 760, 163],  xr: [1977.8, 2019.3] },
  { title: 'l_wheat_perm',   pts: fromYears(permYears, wheatPerm),   yl: wheatPermTicks,   box: [822, 39, 1025, 163], xr: [1979.0, 2019.3] },
  { title: 'l_rubber_trans', pts: quarterly(rubberTrans),            yl: rubberTransTicks, box: [68, 238, 230, 362],  xr: [1978.8, 2019.1] },
  { title: 'l_rubber_idio',  pts: fromPairs(rubberIdio),             yl: rubberIdioTicks,  box: [300, 238, 495, 362], xr: [1978.83, 2018.9] },
  { title: 'l_wheat_trans',  pts: quarterly(wheatTrans),             yl: wheatTransTicks,  box: [597, 238, 760, 362], xr: [1978.9, 2019.1] },
  { title: 'l_wheat_idio',   pts: fromPairs(wheatIdio),              yl: wheatIdioTicks,   box: [829, 238, 1025, 362], xr: [1978.96, 2019.4] },
  { title: 'l_wool',         pts: fromPairs(wool),                   yl: woolTicks,        box: [43, 492, 230, 615],  xr: [1978.87, 2018.9] },
  { title: 'l_wool_perm',    pts: fromYears(permYears, woolPerm),    yl: woolPermTicks,    box: [297, 492, 495, 615], xr: [1979.7, 2019.0] },
  { title: 'l_zinc',         pts: fromPairs(zinc),                   yl: zincTicks,        box: [572, 492, 760, 615], xr: [1979.0, 2019.3] },
  { title: 'l_zinc_perm',    pts: fromYears(permYears, zincPerm),    yl: zincPermTicks,    box: [822, 492, 1025, 615], xr: [1979.0, 2019.3] },
  { title: 'l_wool_trans',   pts: quarterly(woolTrans),              yl: woolTransTicks,   box: [68, 690, 230, 813],  xr: [1978.8, 2019.1] },
  { title: 'l_wool_idio',    pts: fromPairs(woolIdio),               yl: woolIdioTicks,    box: [300, 690, 495, 813], xr: [1978.83, 2019.0] },
  { title: 'l_zinc_trans',   pts: quarterly(zincTrans),              yl: zincTransTicks,   box: [597, 690, 760, 813], xr: [1978.9, 2019.1] },
  { title: 'l_zinc_idio',    pts: fromPairs(zincIdio),               yl: zincIdioTicks,    box: [829, 690, 1025, 813], xr: [1978.96, 2019.4] }
];

// gnuplot-style frame with inward, mirrored tick marks
const framePlugin = {
  id: 'frame',
  afterDraw(chart) {
    const { ctx, chartArea: a, scales } = chart;
    const l = Math.round(a.left) + 0.5, r = Math.round(a.right) - 0.5;
    const t = Math.round(a.top) + 0.5, b = Math.round(a.bottom) - 0.5;
    ctx.save();
    ctx.strokeStyle = FRAME;
    ctx.lineWidth = 1;
    ctx.beginPath();
    ctx.rect(l, t, r - l, b - t);
    for (const tk of scales.x.ticks) {
      const px = Math.round(scales.x.getPixelForValue(tk.value)) + 0.5;
      ctx.moveTo(px, b); ctx.lineTo(px, b - 5);
      ctx.moveTo(px, t); ctx.lineTo(px, t + 5);
    }
    for (const tk of scales.y.ticks) {
      const py = Math.round(scales.y.getPixelForValue(tk.value)) + 0.5;
      ctx.moveTo(l, py); ctx.lineTo(l + 5, py);
      ctx.moveTo(r, py); ctx.lineTo(r - 5, py);
    }
    ctx.stroke();
    ctx.restore();
  }
};

const fig = document.getElementById('fig');

panels.forEach(p => {
  const [L, T, R, B] = p.box;
  const yw = Math.min(L, 70);
  const w = yw + (R - L) + RIGHT_PAD;
  const h = TITLE_H + (B - T) + AXIS_H;
  const cv = document.createElement('canvas');
  cv.width = w; cv.height = h;
  cv.style.left = (L - yw) + 'px';
  cv.style.top = (T - TITLE_H) + 'px';
  cv.style.width = w + 'px';
  cv.style.height = h + 'px';
  fig.appendChild(cv);

  const yVals = p.yl.map(Number);

  new Chart(cv, {
    type: 'line',
    data: {
      datasets: [{
        data: p.pts,
        borderColor: '#ff0000',
        borderWidth: 1,
        pointRadius: 0,
        tension: 0,
        fill: false
      }]
    },
    options: {
      responsive: false,
      animation: false,
      devicePixelRatio: 1,
      layout: { padding: { left: 0, right: RIGHT_PAD, top: 0, bottom: 0 } },
      plugins: {
        legend: { display: false },
        tooltip: { enabled: false },
        title: {
          display: true,
          text: p.title,
          color: TEXT,
          fullSize: false,
          font: { ...FONT, weight: 'normal' },
          padding: { top: 0, bottom: TITLE_H - FONT.size * 1.2 }
        }
      },
      scales: {
        x: {
          type: 'linear',
          min: p.xr[0],
          max: p.xr[1],
          afterBuildTicks: s => { s.ticks = yearTicks.map(v => ({ value: v })); },
          afterFit: s => { s.height = AXIS_H; },
          ticks: { callback: v => String(v), font: FONT, color: TEXT, padding: 7, maxRotation: 0, autoSkip: false },
          grid: { display: false, drawTicks: false },
          border: { display: false }
        },
        y: {
          type: 'linear',
          min: yVals[0],
          max: yVals[yVals.length - 1],
          afterBuildTicks: s => { s.ticks = yVals.map(v => ({ value: v })); },
          afterFit: s => { s.width = yw; },
          ticks: { callback: (v, i) => p.yl[i], font: FONT, color: TEXT, padding: 5, autoSkip: false },
          grid: { display: false, drawTicks: false },
          border: { display: false }
        }
      }
    },
    plugins: [framePlugin]
  });
});
</script>
</body>
</html>
